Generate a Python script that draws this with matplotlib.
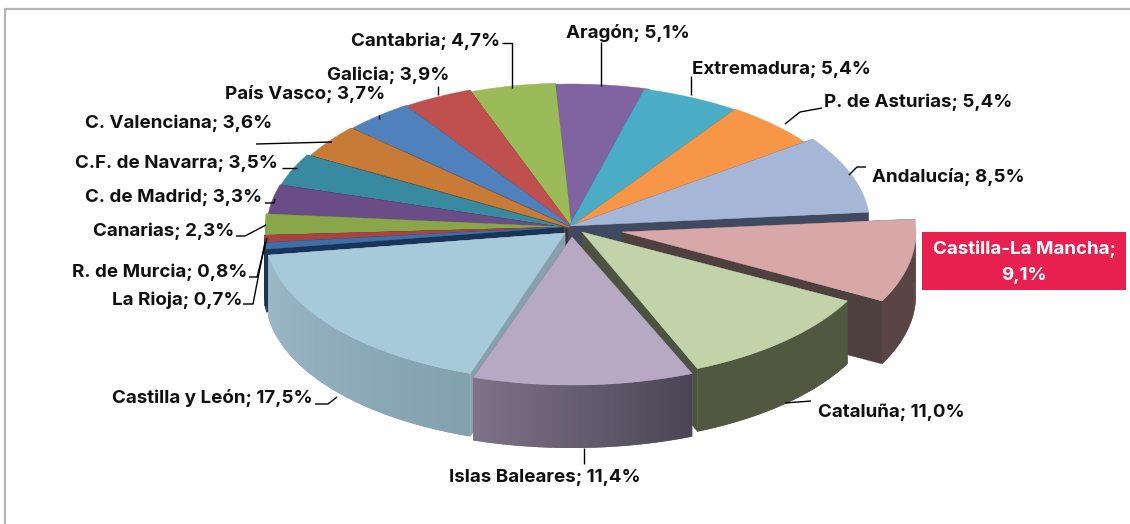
import numpy as np
import matplotlib
matplotlib.use("Agg")
import matplotlib.pyplot as plt
from matplotlib.colors import to_rgb

regions = ["Castilla-La Mancha", "Cataluña", "Islas Baleares", "Castilla y León", "La Rioja",
           "R. de Murcia", "Canarias", "C. de Madrid", "C.F. de Navarra", "C. Valenciana",
           "País Vasco", "Galicia", "Cantabria", "Aragón", "Extremadura", "P. de Asturias", "Andalucía"]
shares = [9.1, 11.0, 11.4, 17.5, 0.7, 0.8, 2.3, 3.3, 3.5, 3.6, 3.7, 3.9, 4.7, 5.1, 5.4, 5.4, 8.5]
top_colors = ["#D8A8A8", "#C3D3A9", "#B7A8C4", "#A7CADB", "#3F6FA8", "#A84341", "#8AA64B", "#6A4C86",
              "#378A9F", "#C87B37", "#4F81BD", "#C0504D", "#9BBB59", "#8064A2", "#4BACC6", "#F79646", "#A6B6D6"]
wall_left = ["#5A4545", "#505840", "#7E7388", "#9DB8C6", "#1A3358", "#5A2322", "#4F5F2A", "#3B2A4C",
             "#1F4F5B", "#6F441E", "#2A466A", "#6C2C2A", "#566A30", "#46375A", "#2A606E", "#8A5326", "#3F4A60"]
wall_right = ["#5A4545", "#505840", "#4A4655", "#82A0AE", "#1A3358", "#5A2322", "#4F5F2A", "#3B2A4C",
              "#1F4F5B", "#6F441E", "#2A466A", "#6C2C2A", "#566A30", "#46375A", "#2A606E", "#8A5326", "#3F4A60"]
radial_wall = ["#4F4040", "#4C5340", "#6F6578", "#86A0AD", "#1A3358", "#5A2322", "#4F5F2A", "#3B2A4C",
               "#1F4F5B", "#6F441E", "#2A466A", "#6C2C2A", "#3F4A25", "#46375A", "#2A606E", "#8A5326", "#3F4A60"]

# layout of the pie
CX, CY, RX, RY, DEPTH = 570, 228, 300, 148, 63
START = 5.0
shift_x = [52, 12, 2, -5, -7, -6, -5, -3, -2, 2, 4, 3, 2, 1, -4, -5, 0]
shift_y = [4, 4, 9, 5, -1, -1, -1, 0, 0, 0, 0, 1, 3, 4, 4, 3, -2]
rx_scale = [0.98, 1.0, 1.04] + [1.0] * 14

label_x = [1024, 818, 449, 313, 242, 247, 234, 262, 278, 272, 385, 449, 500, 566, 692, 824, 872]
label_y = [0, 412, 477, 398, 300, 272, 231, 197, 163, 123, 94, 75, 41, 33, 70, 102, 177]
label_ha = ["center", "left", "left", "right", "right", "right", "right", "right", "right", "right",
            "right", "right", "right", "left", "left", "left", "left"]

leaders = [
    [(811, 401), (785, 403)],
    [(584, 448), (584, 464)],
    [(315, 404), (328, 404), (337, 397)],
    [(243, 304), (253, 304), (265, 242)],
    [(249, 277), (257, 277), (267, 238)],
    [(236, 236), (245, 236), (266, 225)],
    [(265, 203), (274, 203), (275, 199)],
    [(282, 168), (297, 168)],
    [(256, 144), (332, 142)],
    [(379, 115), (379, 119)],
    [(438, 86), (438, 95)],
    [(502, 43), (512, 43), (512, 88)],
    [(601, 42), (601, 86)],
    [(691, 76), (691, 95)],
    [(822, 108), (800, 112), (785, 124)],
    [(866, 167), (857, 167), (849, 175)],
]

plt.rcParams['font.family'] = ['Inter', 'DejaVu Sans']
fig = plt.figure(figsize=(11.30, 5.24), dpi=100, facecolor="white")
ax = fig.add_axes([0, 0, 1, 1])
ax.set_xlim(0, 1130)
ax.set_ylim(524, 0)
ax.axis("off")

# frame of the chart
ax.plot([5, 5, 1130], [524, 9, 9], color="#B5B5B5", lw=1.6, solid_joinstyle="miter")

cum = np.cumsum([0] + shares)
a1s = START - cum[:-1] / 100 * 360
a2s = START - cum[1:] / 100 * 360
mids = (a1s + a2s) / 2
order = np.argsort(-np.sin(np.radians(mids)))


def rim(i, ang):
    t = np.radians(ang)
    return (CX + shift_x[i] + RX * rx_scale[i] * np.cos(t),
            CY + shift_y[i] - RY * np.sin(t))


for i in order:
    tipx, tipy = CX + shift_x[i], CY + shift_y[i]
    # radial walls
    for a in (a1s[i], a2s[i]):
        px, py = rim(i, a)
        ax.fill([tipx, px, px, tipx], [tipy, py, py + DEPTH, tipy + DEPTH],
                color=radial_wall[i], lw=0.3, zorder=1)
    # outer wall as shaded strips, front half only; each strip overlaps the next
    lo, hi = a2s[i], a1s[i]
    vis_pairs = []
    for base in (0, -360):
        l, h = max(lo, base - 180), min(hi, base)
        if h > l:
            vis_pairs.append((l, h))
    for l, h in vis_pairs:
        n = max(2, int((h - l) * 1.5))
        edges = np.linspace(h, l, n + 1)
        c0, c1 = np.array(to_rgb(wall_left[i])), np.array(to_rgb(wall_right[i]))
        for j in range(n):
            arc = np.linspace(edges[j], l if j >= n - 2 else edges[j + 2], 6)
            xa, ya = rim(i, arc)
            f = (j + 0.5) / n
            col = c1 * (1 - f) + c0 * f
            ax.fill(np.r_[xa, xa[::-1]], np.r_[ya, (ya + DEPTH)[::-1]],
                    color=col, lw=0, zorder=1)
    # top face
    arc = np.linspace(a1s[i], a2s[i], 80)
    xs, ys = rim(i, arc)
    ax.fill(np.r_[tipx, xs], np.r_[tipy, ys], color=top_colors[i], lw=0.3, zorder=1)

for pts in leaders:
    xs, ys = zip(*pts)
    ax.plot(xs, ys, color="black", lw=1.0, zorder=3, solid_capstyle="butt")

TXT = dict(fontsize=13.5, fontweight="bold", color="#111111", va="center", zorder=4)
for i, name in enumerate(regions):
    value = f"{shares[i]:.1f}".replace(".", ",") + "%"
    if i == 0:
        ax.fill([922, 1126, 1126, 922], [232, 232, 290, 290], color="#E8204F", lw=0, zorder=3)
        ax.text(label_x[i], 249, f"{name};", ha="center", **{**TXT, "color": "white"})
        ax.text(label_x[i], 275, value, ha="center", **{**TXT, "color": "white"})
    else:
        ax.text(label_x[i], label_y[i], f"{name}; {value}", ha=label_ha[i], **TXT)

fig.savefig("out.png", dpi=100)
